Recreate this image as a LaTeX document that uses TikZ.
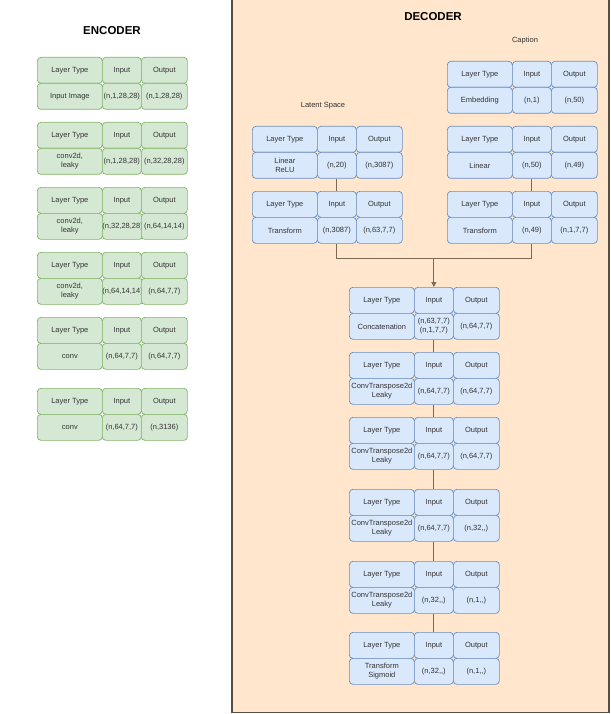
\documentclass[tikz,border=0pt]{standalone}
\usepackage{fontspec}
\setmainfont{Liberation Sans}
\usetikzlibrary{arrows.meta}
\definecolor{gfill}{HTML}{D5E8D4}
\definecolor{gline}{HTML}{82B366}
\definecolor{bfill}{HTML}{DAE8FC}
\definecolor{bline}{HTML}{6C8EBF}
\definecolor{peach}{HTML}{FFE6CC}
\definecolor{framec}{HTML}{5A4D41}
\definecolor{txt}{HTML}{333333}
\definecolor{conn}{HTML}{7A6A58}
\tikzset{
  cellbase/.style={rounded corners=3.5pt, line width=0.7pt, inner sep=0pt, align=center,
    minimum height=26pt, text=txt, font=\fontsize{7.5}{8.6}\selectfont, anchor=north west},
  gcell/.style={cellbase, draw=gline, fill=gfill},
  bcell/.style={cellbase, draw=bline, fill=bfill},
  plainlabel/.style={text=txt, font=\fontsize{7.5}{9}\selectfont},
  titlelabel/.style={text=black, font=\bfseries\fontsize{11.5}{14}\selectfont},
  connline/.style={draw=conn, line width=0.8pt}
}
% style, name, xleft, ytop, type, in, out
\newcommand{\tblock}[7]{%
  \node[#1, minimum width=65pt] (#2-ht) at (#3,#4) {Layer Type};
  \node[#1, minimum width=39pt] (#2-hi) at (#3+65,#4) {Input};
  \node[#1, minimum width=46pt] (#2-ho) at (#3+104,#4) {Output};
  \node[#1, minimum width=65pt] (#2-t) at (#3,#4+26) {#5};
  \node[#1, minimum width=39pt] (#2-i) at (#3+65,#4+26) {#6};
  \node[#1, minimum width=46pt] (#2-o) at (#3+104,#4+26) {#7};
}
\begin{document}
\begin{tikzpicture}[x=1pt,y=-1pt]
\useasboundingbox (0,0) rectangle (610,714);
\fill[white] (0,0) rectangle (610,714);
\fill[peach] (232,-5) rectangle (609,712.5);
\draw[framec, line width=1.3pt] (232,-5) -- (232,712.5) -- (609,712.5) -- (609,-5);

\node[titlelabel] (enc) at (112,31) {ENCODER};
\node[titlelabel] (dec) at (433,17) {DECODER};
\node[plainlabel] (cap) at (525,41) {Caption};
\node[plainlabel] (lat) at (323,106) {Latent Space};

% Encoder
\tblock{gcell}{E1}{37}{57}{Input Image}{(n,1,28,28)}{(n,1,28,28)}
\tblock{gcell}{E2}{37}{122}{conv2d,\\leaky}{(n,1,28,28)}{(n,32,28,28)}
\tblock{gcell}{E3}{37}{187}{conv2d,\\leaky}{(n,32,28,28)}{(n,64,14,14)}
\tblock{gcell}{E4}{37}{252}{conv2d,\\leaky}{(n,64,14,14)}{(n,64,7,7)}
\tblock{gcell}{E5}{37}{317}{conv}{(n,64,7,7)}{(n,64,7,7)}
\tblock{gcell}{E6}{37}{388}{conv}{(n,64,7,7)}{(n,3136)}

% Decoder
\tblock{bcell}{C1}{447}{61}{Embedding}{(n,1)}{(n,50)}
\tblock{bcell}{L1}{252}{126}{Linear\\ReLU}{(n,20)}{(n,3087)}
\tblock{bcell}{C2}{447}{126}{Linear}{(n,50)}{(n,49)}
\tblock{bcell}{L2}{252}{191}{Transform}{(n,3087)}{(n,63,7,7)}
\tblock{bcell}{C3}{447}{191}{Transform}{(n,49)}{(n,1,7,7)}

\tblock{bcell}{D1}{349}{287}{Concatenation}{(n,63,7,7)\\(n,1,7,7)}{(n,64,7,7)}
\tblock{bcell}{D2}{349}{352}{ConvTranspose2d\\Leaky}{(n,64,7,7)}{(n,64,7,7)}
\tblock{bcell}{D3}{349}{417}{ConvTranspose2d\\Leaky}{(n,64,7,7)}{(n,64,7,7)}
\tblock{bcell}{D4}{349}{489}{ConvTranspose2d\\Leaky}{(n,64,7,7)}{(n,32,{},)}
\tblock{bcell}{D5}{349}{561}{ConvTranspose2d\\Leaky}{(n,32,{},)}{(n,1,{},)}
\tblock{bcell}{D6}{349}{632}{Transform\\Sigmoid}{(n,32,{},)}{(n,1,{},)}

% Connectors
\draw[connline] (L1-i.south) -- (L2-hi.north);
\draw[connline] (C2-i.south) -- (C3-hi.north);
\coordinate (mC) at (D1-hi.north |- 0,258);
\coordinate (mL) at (L2-i.south |- mC);
\coordinate (mR) at (C3-i.south |- mC);
\draw[connline] (L2-i.south) -- (mL) -- (mR) -- (C3-i.south);
\draw[connline, -{Triangle[length=5pt,width=5pt]}] (mC) -- (D1-hi.north);
\draw[connline] (D1-i.south) -- (D2-hi.north);
\draw[connline] (D2-i.south) -- (D3-hi.north);
\draw[connline] (D3-i.south) -- (D4-hi.north);
\draw[connline] (D4-i.south) -- (D5-hi.north);
\draw[connline] (D5-i.south) -- (D6-hi.north);
\end{tikzpicture}
\end{document}
